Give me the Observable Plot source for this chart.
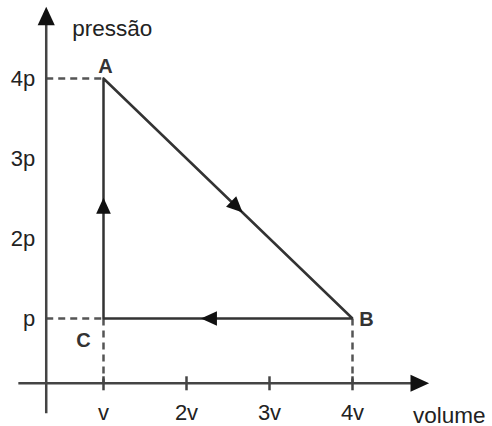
<!DOCTYPE html>
<html><head><meta charset="utf-8">
<script src="https://cdn.jsdelivr.net/npm/d3@7"></script>
<script src="https://cdn.jsdelivr.net/npm/@observablehq/plot@0.6"></script>
<style>body{margin:0;background:#fff}#chart svg{display:block}</style>
</head><body><div id="chart"></div>
<script>
// ---- data ----
const pointNames = ["A", "B", "C"];
const pointVolume = [1, 4, 1];      // in units of v
const pointPressure = [4, 1, 1];    // in units of p
const cycleOrder = ["A", "B", "C", "A"];
const flowSegments = [["C", "A"], ["A", "B"], ["B", "C"]];
const flowArrowVolume = [1, 2.6, 2.28];
const flowArrowPressure = [2.4, 2.4, 1];
const horizontalGuides = ["A", "C"];
const verticalGuides = ["C", "B"];
const volumeTicks = [1, 2, 3, 4];
const volumeTickLabels = ["v", "2v", "3v", "4v"];
const pressureTicks = [1, 2, 3, 4];
const pressureTickLabels = ["p", "2p", "3p", "4p"];
const yAxisAtVolume = 0.31;
const xAxisAtPressure = 0.19;
const volumeAxisExtent = [-0.02, 4.8];
const pressureAxisExtent = [-0.19, 4.77];
const yAxisTitle = "pressão";
const xAxisTitle = "volume";

// ---- helpers ----
const vOf = n => pointVolume[pointNames.indexOf(n)];
const pOf = n => pointPressure[pointNames.indexOf(n)];
const xScale = {domain: [1, 4], range: [103, 352], axis: null};
const yScale = {domain: [1, 4], range: [318, 78], axis: null};
const sx = Plot.scale({x: xScale});
const sy = Plot.scale({y: yScale});
const angle = (v1, p1, v2, p2) => {
  const dx = sx.apply(v2) - sx.apply(v1), dy = sy.apply(p2) - sy.apply(p1);
  return Math.atan2(dx, -dy) * 180 / Math.PI;
};
const flowArrows = flowSegments.map(([a, b], i) => ({
  v: flowArrowVolume[i], p: flowArrowPressure[i], r: angle(vOf(a), pOf(a), vOf(b), pOf(b))
}));
const axisArrows = [
  {v: yAxisAtVolume, p: pressureAxisExtent[1], r: angle(0, 0, 0, 1)},
  {v: volumeAxisExtent[1], p: xAxisAtPressure, r: angle(0, 0, 1, 0)}
];
const arrowHead = {draw(ctx, size) {
  const s = Math.sqrt(size);
  ctx.moveTo(0, -0.55 * s); ctx.lineTo(0.46 * s, 0.45 * s); ctx.lineTo(-0.46 * s, 0.45 * s); ctx.closePath();
}};
const tickSymbol = {draw(ctx, size) {
  const s = Math.sqrt(size);
  ctx.moveTo(0, -0.5 * s); ctx.lineTo(0, 0.5 * s);
}};
const guides = [
  ...horizontalGuides.map(n => ({x1: yAxisAtVolume, y1: pOf(n), x2: vOf(n), y2: pOf(n)})),
  ...verticalGuides.map(n => ({x1: vOf(n), y1: pOf(n), x2: vOf(n), y2: xAxisAtPressure}))
];
const labelOffsets = {A: [2, -12], B: [14, 1], C: [-20, 22]};
const font = "Liberation Sans, Arial, Helvetica, sans-serif";
const axisColor = "#444", lineColor = "#333", textColor = "#222";

const chart = Plot.plot({
  width: 492, height: 426,
  x: xScale, y: yScale,
  style: {fontFamily: font, background: "#fff"},
  marks: [
    Plot.link(guides, {x1: "x1", y1: "y1", x2: "x2", y2: "y2", stroke: "#555", strokeWidth: 2.5, strokeDasharray: "7,5"}),
    Plot.ruleY([xAxisAtPressure], {x1: volumeAxisExtent[0], x2: volumeAxisExtent[1], stroke: axisColor, strokeWidth: 2.5}),
    Plot.ruleX([yAxisAtVolume], {y1: pressureAxisExtent[0], y2: pressureAxisExtent[1], stroke: axisColor, strokeWidth: 2.5}),
    Plot.dot(volumeTicks, {x: d => d, y: () => xAxisAtPressure, symbol: tickSymbol, r: 7.9, stroke: axisColor, strokeWidth: 2.5, fill: "none"}),
    Plot.dot(axisArrows, {x: "v", y: "p", rotate: "r", symbol: arrowHead, r: 10.5, fill: "#111", stroke: "none"}),
    Plot.line(cycleOrder, {x: vOf, y: pOf, stroke: lineColor, strokeWidth: 2.5, strokeLinejoin: "miter"}),
    Plot.dot(flowArrows, {x: "v", y: "p", rotate: "r", symbol: arrowHead, r: 9, fill: "#111", stroke: "none"}),
    Plot.text(volumeTicks, {x: d => d, y: () => xAxisAtPressure, text: (d, i) => volumeTickLabels[i], dy: 30, fontSize: 22, fill: textColor}),
    Plot.text(pressureTicks, {x: () => yAxisAtVolume, y: d => d, text: (d, i) => pressureTickLabels[i], dx: -11, textAnchor: "end", fontSize: 22, fill: textColor}),
    Plot.text([yAxisTitle], {x: () => yAxisAtVolume, y: () => pressureAxisExtent[1], text: d => d, dx: 26, dy: 12, textAnchor: "start", fontSize: 22.5, fill: textColor}),
    Plot.text([xAxisTitle], {x: () => volumeAxisExtent[1], y: () => xAxisAtPressure, text: d => d, dx: -6, dy: 32, textAnchor: "start", fontSize: 22.5, fill: textColor}),
    ...pointNames.map(n => Plot.text([n], {x: vOf, y: pOf, text: d => d, dx: labelOffsets[n][0], dy: labelOffsets[n][1], fontSize: 20, fontWeight: "bold", fill: "#333"}))
  ]
});
document.getElementById("chart").append(chart);
</script>
</body></html>
